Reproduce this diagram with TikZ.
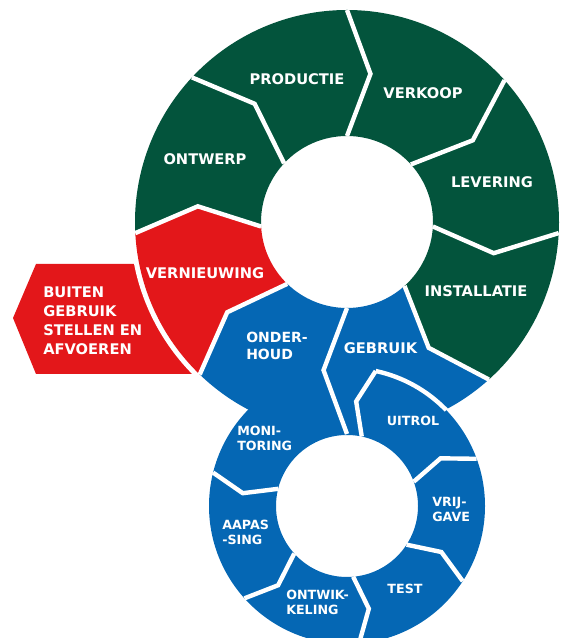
\documentclass[tikz,border=0pt]{standalone}
\usepackage{fontspec}
\setmainfont{DejaVu Sans}
\definecolor{ringgreen}{HTML}{03543C}
\definecolor{ringred}{HTML}{E3171A}
\definecolor{ringblue}{HTML}{0567B4}

% one piece of the big ring, from angle #1 down to angle #2
\newcommand{\bigseg}[3]{\fill[#3] (#1:212) arc[start angle=#1, end angle=#2, radius=212]
  -- ({#2-9}:150) -- (#2:86) arc[start angle=#2, end angle=#1, radius=86] -- ({#1-9}:150) -- cycle;}

\begin{document}
\begin{tikzpicture}[x=0.75pt, y=0.75pt,
  lbl/.style={text=white, font=\bfseries\fontsize{11}{14.25}\selectfont, align=left, inner sep=0pt},
  slbl/.style={lbl, font=\bfseries\fontsize{9.5}{11.25}\selectfont},
  gap/.style={white, line width=3.3pt}]
\useasboundingbox (0,0) rectangle (563,638);

% red block on the left, partly under the ring
\fill[ringred] (13,320) -- (36,374) -- (220,374) -- (245,319) -- (220,264) -- (36,264) -- cycle;
\fill[white] (347,416) circle[radius=217];

% big ring
\begin{scope}[shift={(347,416)}]
\bigseg{226}{183}{ringred}
\bigseg{183}{137}{ringgreen}
\bigseg{137}{90}{ringgreen}
\bigseg{90}{42}{ringgreen}
\bigseg{42}{-3}{ringgreen}
\bigseg{-3}{-48}{ringgreen}
\bigseg{-48}{-90}{ringblue}
\bigseg{270}{226}{ringblue}
\end{scope}

% small ring
\fill[ringblue, even odd rule] (347,132) circle[radius=138] circle[radius=71];

% white cuts
\begin{scope}[shift={(347,416)}]
\foreach \b in {226,183,137,90,42,-3,-48,270}
  \draw[gap] (\b:212) -- ({\b-9}:150) -- (\b:86);
\end{scope}
\begin{scope}[shift={(347,132)}]
\foreach \b in {78,20,-33,-85,-138,166}
  \draw[gap] (\b:138) -- ({\b+7}:105) -- (\b:71);
\draw[gap] (78:138) arc[start angle=78, end angle=44, radius=138];
\end{scope}

% labels
\node[lbl] (productie) at (297,559) {PRODUCTIE};
\node[lbl] (verkoop) at (423,545) {VERKOOP};
\node[lbl] (ontwerp) at (205,479) {ONTWERP};
\node[lbl] (levering) at (492,456) {LEVERING};
\node[lbl] (installatie) at (476,347) {INSTALLATIE};
\node[lbl] (vernieuwing) at (205,364.5) {VERNIEUWING};
\node[lbl, anchor=west] (buiten) at (43,317.5) {BUITEN\\GEBRUIK\\STELLEN EN\\AFVOEREN};
\node[lbl, anchor=west, font=\bfseries\fontsize{10.5}{12.75}\selectfont] (onderhoud) at (246,292.5) {ONDER-\\HOUD};
\node[lbl] (gebruik) at (380.5,290) {GEBRUIK};
\node[slbl] (uitrol) at (413,217.5) {UITROL};
\node[slbl, anchor=west] (monitoring) at (237,200) {MONI-\\TORING};
\node[slbl, anchor=west] (vrijgave) at (432,128.5) {VRIJ-\\GAVE};
\node[slbl, anchor=west] (aanpassing) at (222,105.5) {AAPAS\\-SING};
\node[slbl] (test) at (405,49) {TEST};
\node[slbl, anchor=west] (ontwikkeling) at (286,35.5) {ONTWIK-\\KELING};
\end{tikzpicture}
\end{document}
